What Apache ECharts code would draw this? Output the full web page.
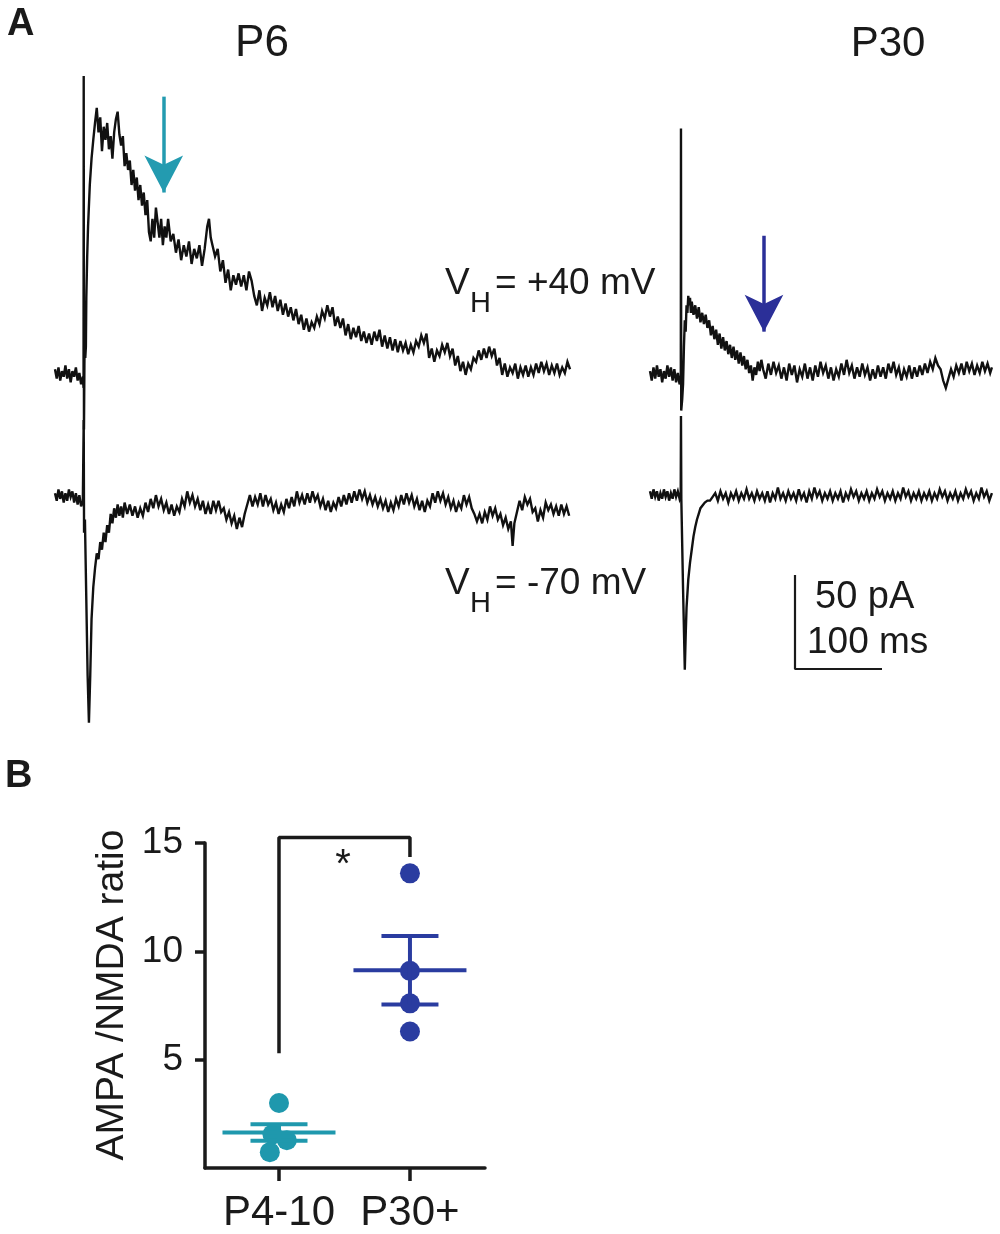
<!DOCTYPE html>
<html>
<head>
<meta charset="utf-8">
<script src="https://cdn.jsdelivr.net/npm/echarts@6.0.0/dist/echarts.min.js"></script>
<style>
html,body{margin:0;padding:0;background:#fff;}
#chart{width:1000px;height:1234px;}
</style>
</head>
<body>
<div id="chart"></div>
<script>
// ---------------- DATA ----------------
// Panel A: whole-cell currents, time (ms) vs current (pA, relative to pre-stimulus baseline)
const P6_POS40 = [[0,2],[2,-3],[4,3],[6,-4],[8,1],[10,-2],[12,4],[14,-3],[16,2],[18,-5],[20,1],[22,-2],[24,3],[26,-4],[28,0],[30,-6],[32,-2],
[32.8,-8],[33,158],[33.3,-30],[33.8,4],[34.3,28],[34.8,8],[35.5,14],[36,40],[37,62],[38,78],[40,100],[42,114],[44,124],[46,133],[48,141],
[50,128],[52,136],[54,118],[56,131],[58,124],[60,133],[62,119],[64,126],[66,114],[68,128],[70,135],[72,139],[74,127],[76,121],[78,126],[80,110],[82,117],[84,108],[86,113],[88,100],[90,108],[92,97],[94,104],[96,92],[98,100],[100,89],[102,96],[104,84],[106,92],[108,75],[110,70],[112,82],[114,72],[116,88],[118,80],[120,72],[122,82],[124,68],[126,78],[128,72],[130,82],[133,70],[136,74],[139,64],[142,71],[145,60],[148,68],[151,62],[154,70],[157,58],[160,66],[163,61],[166,68],[169,57],[172,66],[175,78],[177,82],[179,72],[181,68],[184,62],[187,66],[190,54],[193,60],[196,48],[199,55],[202,44],[205,52],[208,47],[211,53],[214,46],[217,52],[220,44],[223,54],[226,49],[229,41],[232,36],[235,44],[238,33],[241,40],[244,36],[247,43],[250,35],[253,41],[256,33],[259,39],[262,31],[265,37],[268,30],[271,35],[274,28],[277,34],[280,26],[283,31],[286,23],[289,29],[292,22],[295,27],[298,24],[301,30],[304,26],[307,33],[310,29],[313,36],[316,30],[319,35],[322,25],[325,30],[328,24],[331,29],[334,20],[337,26],[340,18],[343,24],[346,19],[349,25],[352,17],[355,22],[358,16],[361,21],[364,15],[367,22],[370,17],[373,23],[376,14],[379,20],[382,13],[385,19],[388,12],[391,18],[394,11],[397,17],[400,12],[403,16],[406,10],[409,15],[412,11],[415,17],[418,14],[421,20],[424,16],[427,21],[430,8],[433,13],[436,6],[439,12],[442,9],[445,15],[448,11],[451,16],[454,9],[457,13],[460,4],[463,9],[466,1],[469,6],[472,-1],[475,5],[478,2],[481,8],[484,6],[487,12],[490,7],[493,13],[496,8],[499,14],[502,9],[505,13],[508,4],[511,8],[514,-1],[517,5],[520,-2],[523,3],[526,0],[529,5],[532,-3],[535,3],[538,-1],[541,4],[544,-2],[547,3],[550,-1],[553,5],[556,0],[559,6],[562,1],[565,5],[568,-1],[571,4],[574,0],[577,5],[580,-1],[583,3],[586,0],[589,6],[592,2]];

const P6_NEG70 = [[0,2],[2,-2],[4,4],[6,-1],[8,3],[10,-3],[12,2],[14,-2],[16,4],[18,0],[20,3],[22,-3],[24,2],[26,-4],[28,1],[30,-5],[32,-2],
[32.8,-3],[33,41],[33.4,-19],[34.4,-12],[36,-55],[37.5,-95],[39,-120],[40.5,-95],[42,-65],[44,-48],[46,-38],[48,-30],[50,-33],[52,-24],[54,-28],[56,-19],[58,-24],[60,-15],[62,-19],[64,-9],[66,-14],[68,-6],[70,-11],[72,-4],[74,-10],[76,-5],[78,-11],
[80,-3],[83,-9],[86,-4],[89,-10],[92,-5],[95,-11],[98,-6],[101,-10],[104,-3],[107,-8],[110,-1],[113,-6],[116,1],[119,-5],[122,-1],[125,-7],[128,-3],[131,-9],[134,-4],[137,-10],[140,-5],[143,-8],[146,-1],[149,-5],[152,3],[155,-3],[158,1],[161,-5],[164,-1],[167,-7],[170,-2],[173,-9],[176,-4],[179,-9],[182,-2],[185,-7],[188,-2],[191,-8],[194,-6],[197,-12],[200,-8],[203,-14],[206,-10],[209,-17],[212,-11],[215,-16],[218,-9],[221,-4],[224,1],[227,-5],[230,0],[233,-4],[236,2],[239,-5],[242,1],[245,-4],[248,-1],[251,-7],[254,-3],[257,-9],[260,-4],[263,-8],[266,-1],[269,-6],[272,0],[275,-5],[278,3],[281,-3],[284,1],[287,-4],[290,2],[293,-3],[296,3],[299,-2],[302,1],[305,-5],[308,-1],[311,-7],[314,-2],[317,-8],[320,-3],[323,-6],[326,0],[329,-5],[332,1],[335,-4],[338,2],[341,-3],[344,3],[347,-2],[350,4],[353,-1],[356,3],[359,-3],[362,1],[365,-4],[368,0],[371,-5],[374,-1],[377,-6],[380,-2],[383,-8],[386,-3],[389,-7],[392,-1],[395,-5],[398,1],[401,-4],[404,2],[407,-3],[410,1],[413,-5],[416,-1],[419,-7],[422,-2],[425,-8],[428,-2],[431,-5],[434,2],[437,-3],[440,3],[443,-2],[446,2],[449,-4],[452,0],[455,-6],[458,-2],[461,-8],[464,-3],[467,-6],[470,1],[473,-4],[476,0],[479,-6],[482,-9],[485,-13],[488,-9],[491,-14],[494,-8],[497,-12],[500,-5],[503,-10],[506,-6],[509,-12],[512,-9],[515,-15],[518,-11],[521,-17],[524,-13],[526,-26],[528,-14],[531,-8],[534,-2],[537,-7],[540,0],[543,-4],[546,-1],[549,-8],[552,-6],[555,-13],[558,-7],[561,-11],[564,-3],[567,-7],[570,-4],[573,-9],[576,-5],[579,-10],[582,-4],[585,-9],[588,-5],[591,-10]];

const P30_POS40 = [[0,1],[2,-4],[4,3],[6,-3],[8,4],[10,-2],[12,2],[14,-5],[16,1],[18,-3],[20,4],[22,-2],[24,3],[26,-4],[28,2],[30,-5],[32,0],[34,-6],
[35.4,-4],[35.6,130],[35.9,-20],[37,-14],[38,-6],[39,14],[40,28],[41,22],[42,36],[43,32],[44,41],[45,36],[46,40],[47,32],[48,38],[50,31],[52,36],[54,29],[56,35],[58,27],[60,32],[62,26],[64,31],[66,24],[68,28],[70,20],[72,25],[74,18],[76,23],[78,15],[80,21],[82,13],[84,19],[86,12],[88,17],[90,10],[92,15],[94,8],[96,14],[98,7],[100,12],[102,5],[104,11],[106,4],[108,9],[110,2],[112,7],[114,0],[116,4],[118,-4],[120,3],[122,-1],[124,6],[126,1],[128,7],[130,2],
[133,-3],[136,5],[139,-1],[142,6],[145,0],[148,4],[151,-3],[154,3],[157,-4],[160,5],[163,-1],[166,4],[169,-5],[172,2],[175,-2],[178,5],[181,-3],[184,3],[187,-4],[190,4],[193,-2],[196,6],[199,0],[202,4],[205,-3],[208,3],[211,-4],[214,2],[217,-2],[220,5],[223,-1],[226,7],[229,0],[232,4],[235,-3],[238,3],[241,-2],[244,5],[247,-1],[250,3],[253,-4],[256,2],[259,-3],[262,4],[265,-2],[268,3],[271,-3],[274,5],[277,0],[280,6],[283,-1],[286,3],[289,-4],[292,2],[295,-2],[298,4],[301,-3],[304,3],[307,-2],[310,4],[313,-1],[316,5],[319,0],[322,6],[325,2],[328,8],[331,4],[334,2],[337,-4],[340,-8],[343,-3],[346,2],[349,-2],[352,4],[355,0],[358,5],[361,-1],[364,6],[367,1],[370,5],[373,-1],[376,4],[379,0],[382,6],[385,1],[388,5],[391,0],[393,3]];

const P30_NEG70 = [[0,2],[2,-2],[4,3],[6,-1],[8,2],[10,-3],[12,1],[14,-2],[16,3],[18,-1],[20,2],[22,-3],[24,1],[26,-2],[28,3],[30,-1],[32,2],[34,-2],[35.3,0],
[35.6,42],[36,-2],[38,-50],[40,-93],[41,-75],[42,-60],[44,-45],[46,-36],[48,-29],[50,-22],[52,-17],[54,-13],[56,-10],[58,-7],[60,-6],[63,-4],[66,-3],[69,-3],[72,-1],
[75,1],[78,-3],[81,2],[84,-2],[87,1],[90,-4],[93,1],[96,-2],[99,2],[102,-3],[105,1],[108,-2],[111,3],[114,-2],[117,1],[120,-3],[123,2],[126,-2],[129,1],[132,-3],[135,2],[138,-4],[141,1],[144,-2],[147,4],[150,-2],[153,1],[156,-3],[159,2],[162,-2],[165,1],[168,-3],[171,3],[174,-2],[177,1],[180,-4],[183,2],[186,-2],[189,4],[192,-1],[195,2],[198,-3],[201,1],[204,-2],[207,2],[210,-3],[213,1],[216,-2],[219,2],[222,-4],[225,1],[228,-2],[231,3],[234,-1],[237,2],[240,-3],[243,1],[246,-2],[249,2],[252,-3],[255,1],[258,-2],[261,3],[264,-1],[267,2],[270,-3],[273,1],[276,-2],[279,2],[282,-3],[285,1],[288,-2],[291,4],[294,-1],[297,2],[300,-3],[303,1],[306,-2],[309,2],[312,-3],[315,1],[318,-2],[321,2],[324,-3],[327,1],[330,-2],[333,3],[336,-1],[339,2],[342,-3],[345,1],[348,-2],[351,2],[354,-3],[357,1],[360,-2],[363,3],[366,-1],[369,2],[372,-3],[375,1],[378,-2],[381,4],[384,-1],[387,2],[390,-3],[393,1]];

// Arrows (time in ms, current from -> tip in pA)
const P6_ARROW = {t: 125, from: 147, tip: 96};
const P30_ARROW = {t: 131, from: 73, tip: 22};
// Scale bar
const SCALE_PA = 50;
const SCALE_MS = 100;

// Panel B: AMPA/NMDA ratio
const GROUPS = ['P4-10', 'P30+'];
const RATIO_P4_10 = [3.0, 1.55, 1.28, 0.73];
const JITTER_P4_10 = [0, -0.05, 0.06, -0.07];
const RATIO_P30 = [13.6, 9.1, 7.6, 6.3];
const JITTER_P30 = [0, 0, 0, 0];
const MEANS = [1.64, 9.13];
const SEMS = [0.38, 1.58];
const BRACKET = [[0, 5.3], [0, 15.25], [1, 15.25], [1, 14.35]];
const Y_TITLE = 'AMPA /NMDA ratio';

// ---------------- LAYOUT / STYLE ----------------
const FONT = "'Liberation Sans', Arial, Helvetica, sans-serif";
const INK = '#1a1a1a';
const CYAN = '#1f98ad';
const BLUE = '#2a3ca0';
const ARROW_CYAN = '#239bb0';
const ARROW_BLUE = '#2b2f98';
const PX_PER_PA = 1.88;
const PX_PER_MS = 0.87;

function traceGrid(left, top, height, msSpan, zeroPx) {
  return {
    grid: {left: left, top: top, width: msSpan * PX_PER_MS, height: height},
    x: {min: 0, max: msSpan},
    y: {min: -(top + height - zeroPx) / PX_PER_PA, max: (zeroPx - top) / PX_PER_PA}
  };
}
const TG = [
  traceGrid(55, 60, 380, 600, 373),   // P6 +40
  traceGrid(55, 400, 340, 600, 497),  // P6 -70
  traceGrid(650, 100, 340, 400, 373), // P30 +40
  traceGrid(650, 400, 300, 400, 495)  // P30 -70
];

const grids = TG.map(g => g.grid);
grids.push({left: 205, top: 843, width: 280, height: 328.5});

const xAxes = TG.map((g, i) => ({gridIndex: i, type: 'value', min: g.x.min, max: g.x.max, show: false}));
const yAxes = TG.map((g, i) => ({gridIndex: i, type: 'value', min: g.y.min, max: g.y.max, show: false}));

xAxes.push({
  gridIndex: 4, type: 'value', min: -0.565, max: 1.573,
  splitLine: {show: false},
  axisLine: {show: true, onZero: false, lineStyle: {color: INK, width: 3.5}},
  axisTick: {show: true, customValues: [0, 1], length: 13, lineStyle: {color: INK, width: 3.5}},
  axisLabel: {customValues: [0, 1], formatter: v => GROUPS[Math.round(v)], fontSize: 42, fontFamily: FONT, color: INK, margin: 24}
});
yAxes.push({
  gridIndex: 4, type: 'value', min: 0, max: 15, interval: 5,
  splitLine: {show: false},
  axisLine: {show: true, onZero: false, lineStyle: {color: INK, width: 3.5}},
  axisTick: {show: true, length: 10, lineStyle: {color: INK, width: 3.5}},
  axisLabel: {showMinLabel: false, fontSize: 37, fontFamily: FONT, color: INK, margin: 22}
});

function traceSeries(data, idx, extra) {
  return Object.assign({
    type: 'line', data: data, xAxisIndex: idx, yAxisIndex: idx,
    showSymbol: false, symbol: 'none', silent: true, animation: false,
    lineStyle: {color: '#111', width: 2.4, join: 'miter', miterLimit: 4}, z: 2
  }, extra || {});
}

const ARROW_HEAD = [29, 37];
function arrowMark(a, color) {
  return {
    silent: true, animation: false,
    symbol: ['none', 'arrow'], symbolSize: ARROW_HEAD,
    lineStyle: {color: color, width: 3.5, type: 'solid'},
    label: {show: false},
    data: [[{coord: [a.t, a.from]}, {coord: [a.t, a.tip]}]]
  };
}

// scale bar anchored in P30 -70 grid coordinates
const SB_T0 = (795 - 650) / PX_PER_MS;
const SB_I0 = (495 - 669) / PX_PER_PA;
const scaleBar = [[SB_T0, SB_I0 + SCALE_PA], [SB_T0, SB_I0], [SB_T0 + SCALE_MS, SB_I0]];

const series = [
  traceSeries(P6_POS40, 0, {markLine: arrowMark(P6_ARROW, ARROW_CYAN)}),
  traceSeries(P6_NEG70, 1),
  traceSeries(P30_POS40, 2, {markLine: arrowMark(P30_ARROW, ARROW_BLUE)}),
  traceSeries(P30_NEG70, 3),
  {type: 'line', data: scaleBar, xAxisIndex: 3, yAxisIndex: 3, showSymbol: false, symbol: 'none', clip: false,
   silent: true, animation: false, lineStyle: {color: INK, width: 2.2}},
  // Panel B
  {type: 'line', data: BRACKET, xAxisIndex: 4, yAxisIndex: 4, showSymbol: false, symbol: 'none', clip: false,
   silent: true, animation: false, lineStyle: {color: INK, width: 3.5}},
  {type: 'scatter', xAxisIndex: 4, yAxisIndex: 4, symbolSize: 20, silent: true, animation: false,
   itemStyle: {color: CYAN, opacity: 1},
   data: RATIO_P4_10.map((v, k) => [0 + JITTER_P4_10[k], v])},
  {type: 'scatter', xAxisIndex: 4, yAxisIndex: 4, symbolSize: 20, silent: true, animation: false,
   itemStyle: {color: BLUE, opacity: 1},
   data: RATIO_P30.map((v, k) => [1 + JITTER_P30[k], v])},
  {type: 'custom', xAxisIndex: 4, yAxisIndex: 4, silent: true, animation: false, z: 3,
   data: GROUPS.map((g, i) => [i, MEANS[i], SEMS[i]]),
   renderItem: function (params, api) {
     const i = api.value(0), m = api.value(1), s = api.value(2);
     const c = api.coord([i, m]);
     const up = api.coord([i, m + s]);
     const lo = api.coord([i, m - s]);
     const color = i === 0 ? CYAN : BLUE;
     const mw = 56.5, cw = 28.5;
     const st = {stroke: color, lineWidth: 4};
     return {type: 'group', children: [
       {type: 'line', shape: {x1: c[0] - mw, y1: c[1], x2: c[0] + mw, y2: c[1]}, style: st},
       {type: 'line', shape: {x1: up[0] - cw, y1: up[1], x2: up[0] + cw, y2: up[1]}, style: st},
       {type: 'line', shape: {x1: lo[0] - cw, y1: lo[1], x2: lo[0] + cw, y2: lo[1]}, style: st},
       {type: 'line', shape: {x1: up[0], y1: up[1], x2: lo[0], y2: lo[1]}, style: st}
     ]};
   }}
];

function txt(text, x, y, size, opts) {
  opts = opts || {};
  return {
    type: 'text', x: x, y: y, silent: true, rotation: opts.rotation || 0,
    style: {
      text: text, fill: INK,
      font: (opts.bold ? 'bold ' : '') + size + 'px ' + FONT,
      textAlign: opts.align || 'left', align: opts.align || 'left',
      textVerticalAlign: 'middle', verticalAlign: 'middle'
    }
  };
}

const graphic = [
  txt('A', 7, 25, 38, {bold: true}),
  txt('B', 5, 777, 38, {bold: true}),
  txt('P6', 262, 44, 44, {align: 'center'}),
  txt('P30', 888, 44, 42, {align: 'center'}),
  txt('V', 445, 284, 37), txt('H', 470, 304, 29), txt('= +40 mV', 495, 284, 37),
  txt('V', 445, 584, 37), txt('H', 470, 604, 29), txt('= -70 mV', 495, 584, 37),
  txt('50 pA', 815, 598, 38),
  txt('100 ms', 807, 643, 37),
  txt('*', 343, 866, 40, {align: 'center'}),
  txt(Y_TITLE, 112, 995, 39, {align: 'center', rotation: Math.PI / 2})
];

const chart = echarts.init(document.getElementById('chart'), null, {renderer: 'canvas'});
chart.setOption({
  animation: false,
  backgroundColor: '#ffffff',
  grid: grids,
  xAxis: xAxes,
  yAxis: yAxes,
  series: series,
  graphic: graphic
});
</script>
</body>
</html>
